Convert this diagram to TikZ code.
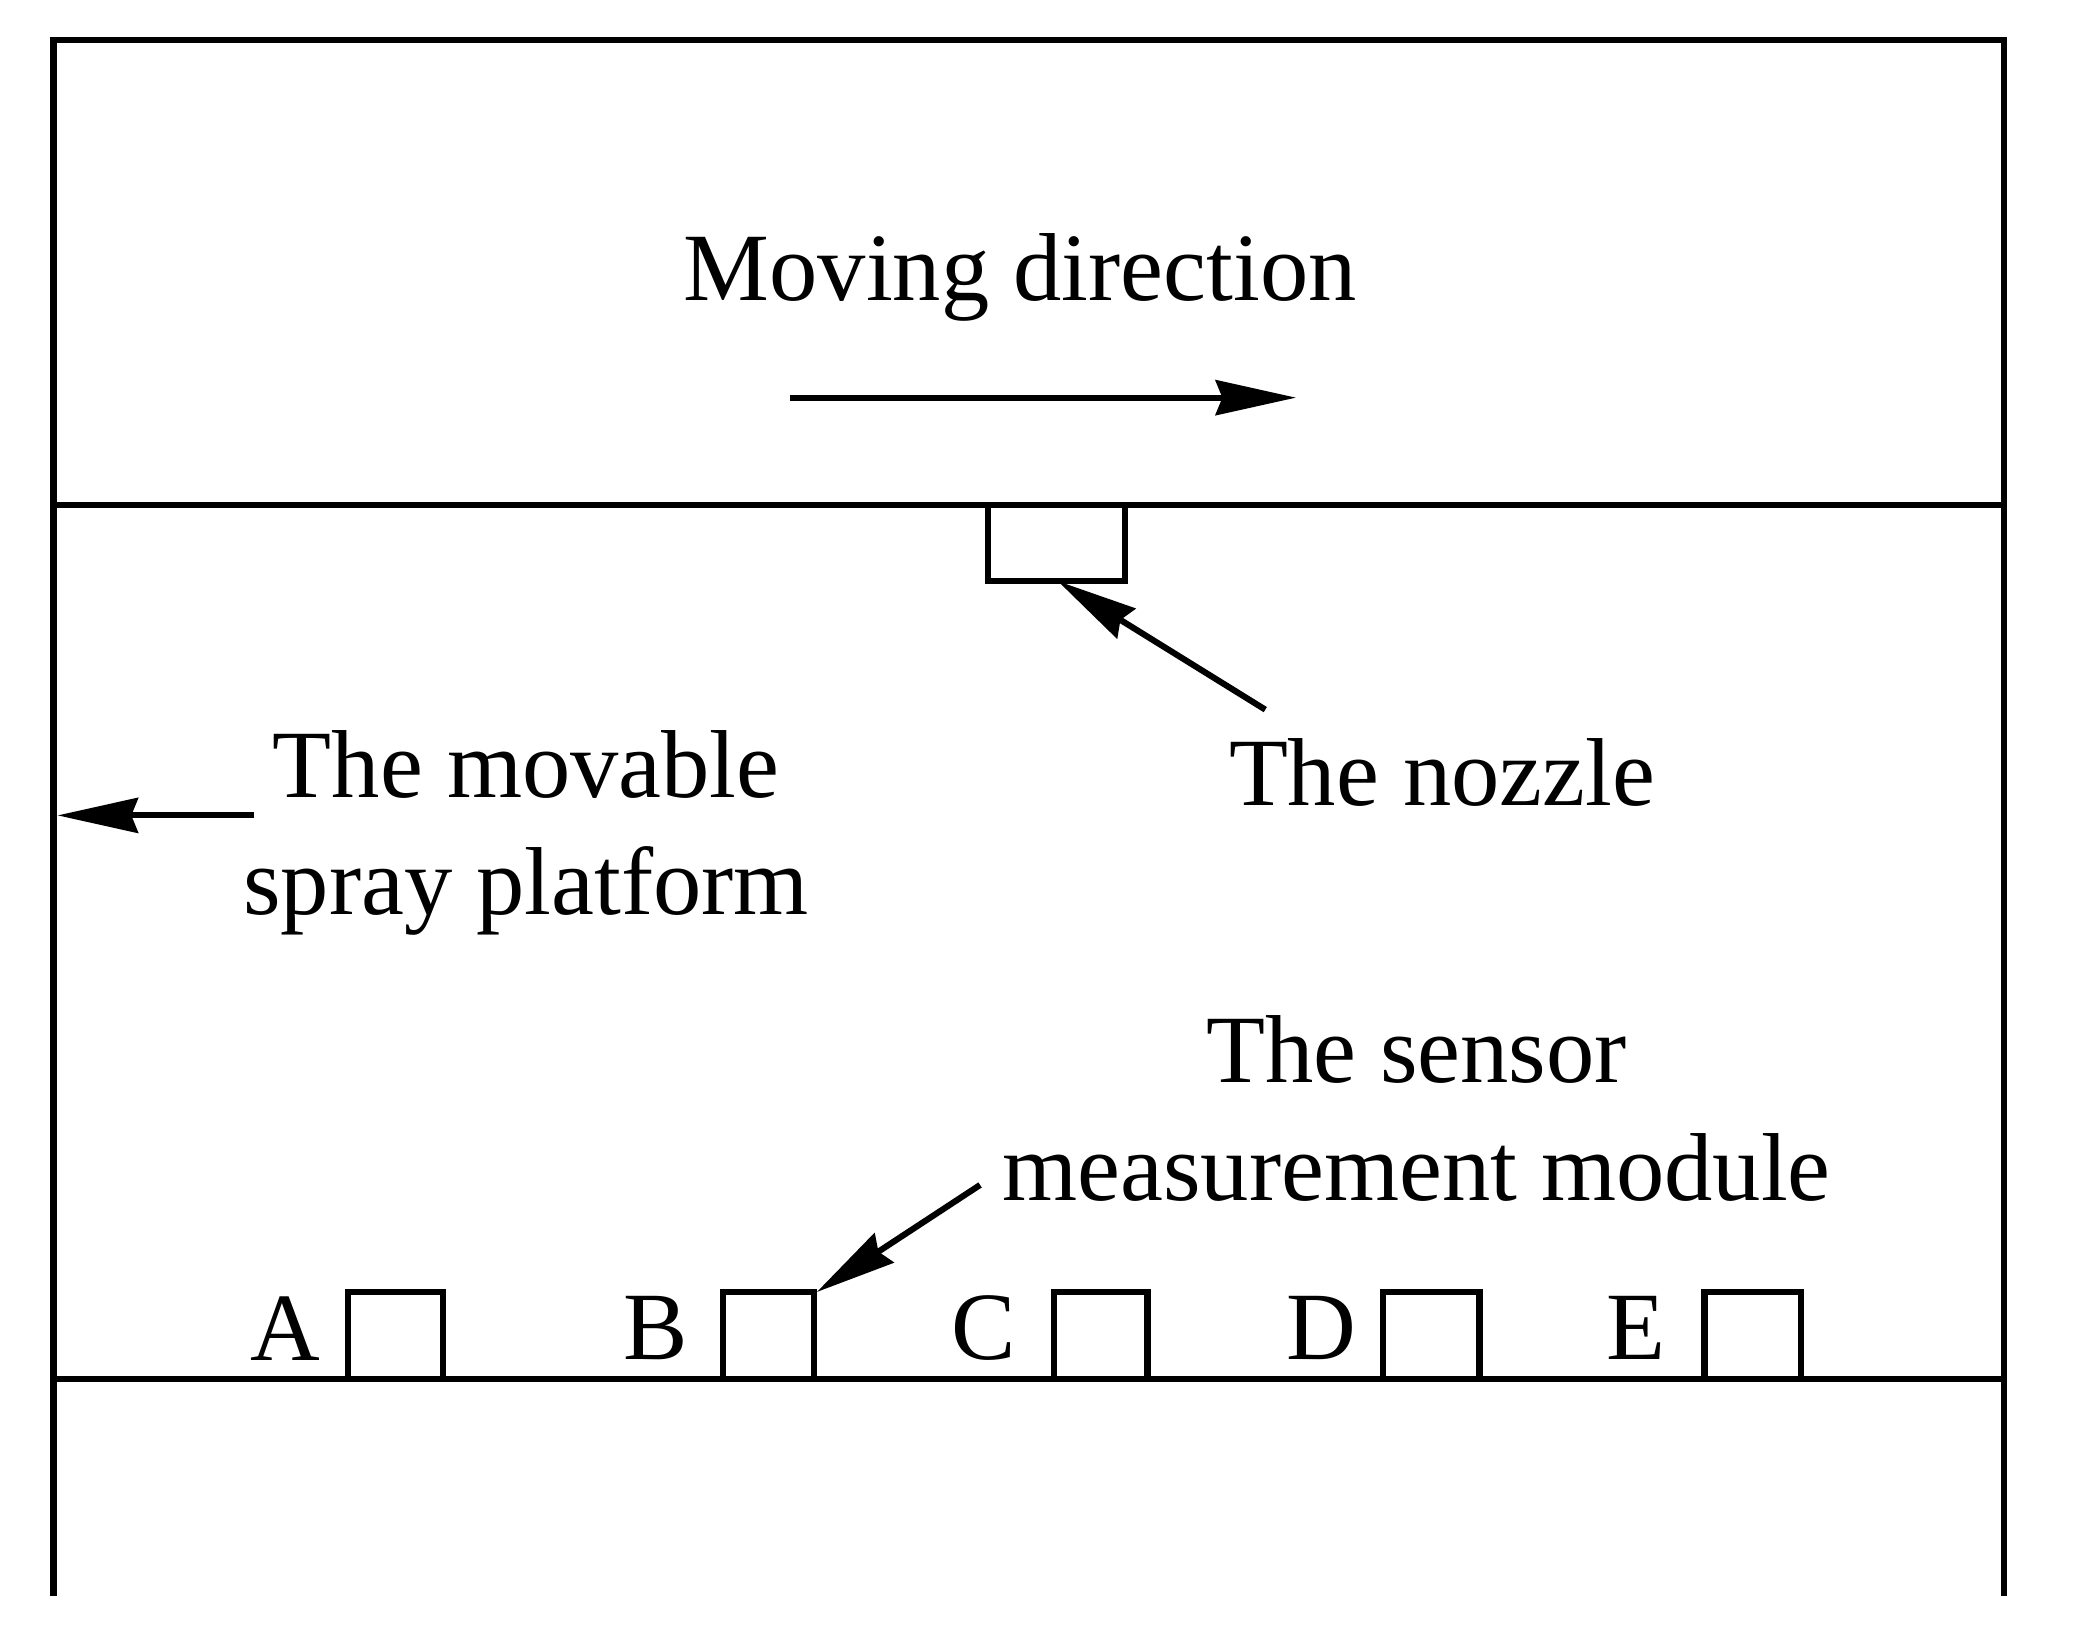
\documentclass[tikz,border=0pt]{standalone}
\usepackage{fontspec}
\setmainfont{Liberation Serif}
\usetikzlibrary{arrows.meta}
\begin{document}
\begin{tikzpicture}[x=0.01cm,y=-0.01cm,line width=1.3pt,
  lbl/.style={font=\fontsize{20.5}{25}\selectfont,inner sep=0pt,align=center},
  arr/.style={-{Stealth[length=0.6cm,width=0.26cm,inset=0.05cm]}}]
\useasboundingbox (0,0) rectangle (1552,1225);
\draw (40,1192) -- (40,30) -- (1497,30) -- (1497,1192);
\draw (40,377) -- (1497,377);
\draw (40,1030) -- (1497,1030);
\node[lbl] (mv) at (762,207) {Moving direction};
\coordinate (m1) at (590,297); \coordinate (m2) at (968,297);
\draw[arr] (m1) -- (m2);
\draw (738,377) rectangle (840,434);
\coordinate (nz) at (790,434); \coordinate (nzs) at (945,530);
\draw[arr] (nzs) -- (nz);
\node[lbl] (nzl) at (1077,577) {The nozzle};
\node[lbl] (pl) at (393,622) {The movable\\spray platform};
\coordinate (p1) at (190,609); \coordinate (p2) at (43,609);
\draw[arr] (p1) -- (p2);
\node[lbl] (sl) at (1058,828) {The sensor\\measurement module};
\coordinate (s1) at (732,885); \coordinate (s2) at (610,965);
\draw[arr] (s1) -- (s2);
\foreach \n/\a/\b/\lx in {A/260/331/213,B/540/608/490,C/787/857/735,D/1033/1105/987,E/1273/1345/1222}{
  \draw (\a,1030) -- (\a,965) -- (\b,965) -- (\b,1030);
  \node[lbl] (l\n) at (\lx,992) {\n};
}
\end{tikzpicture}
\end{document}
